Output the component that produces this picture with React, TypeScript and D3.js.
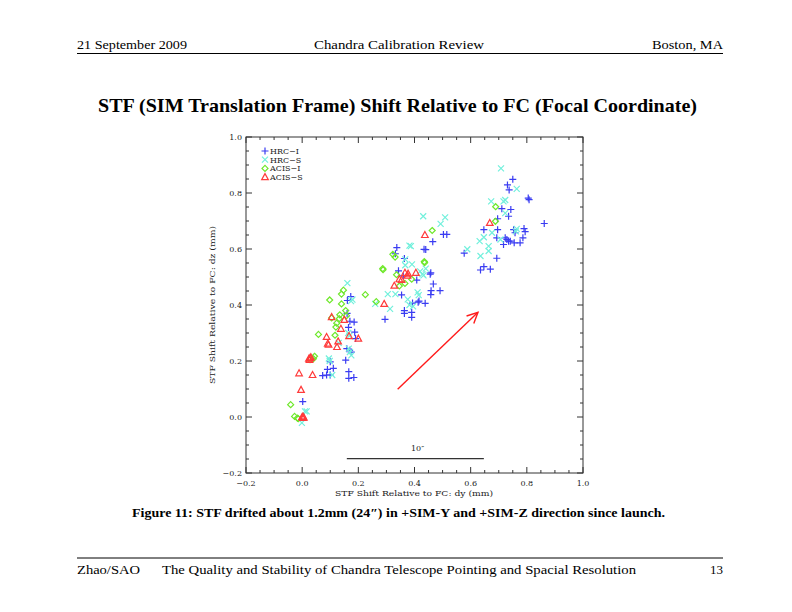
import React from "react";
import * as d3 from "d3";

const hrcI: [number, number][] = [
  [0.002,0.055],[0.073,0.148],[0.087,0.15],[0.09,0.17],[0.1,0.15],[0.111,0.174],[0.1,0.197],[0.166,0.162],[0.166,0.138],[0.184,0.141],[0.155,0.203],[0.159,0.244],[0.169,0.238],[0.175,0.232],[0.185,0.339],[0.17,0.342],[0.165,0.32],[0.187,0.303],[0.19,0.28],[0.161,0.416],[0.173,0.43],[0.16,0.37],[0.295,0.349],[0.337,0.605],[0.332,0.583],[0.343,0.522],[0.364,0.566],[0.36,0.504],[0.354,0.436],[0.364,0.38],[0.364,0.37],[0.39,0.374],[0.39,0.356],[0.393,0.407],[0.413,0.41],[0.416,0.414],[0.438,0.406],[0.434,0.599],[0.44,0.598],[0.458,0.515],[0.456,0.51],[0.467,0.475],[0.459,0.451],[0.458,0.437],[0.491,0.451],[0.408,0.489],[0.465,0.626],[0.503,0.652],[0.515,0.652],[0.577,0.585],[0.635,0.525],[0.647,0.537],[0.67,0.528],[0.693,0.567],[0.647,0.669],[0.696,0.669],[0.693,0.64],[0.696,0.708],[0.711,0.744],[0.731,0.829],[0.737,0.811],[0.75,0.849],[0.743,0.741],[0.735,0.717],[0.723,0.64],[0.729,0.634],[0.735,0.628],[0.741,0.628],[0.717,0.616],[0.753,0.669],[0.758,0.658],[0.755,0.622],[0.776,0.622],[0.786,0.64],[0.79,0.673],[0.794,0.662],[0.805,0.782],[0.808,0.776],[0.862,0.691]
];
const hrcS: [number, number][] = [
  [-0.001,-0.021],[0.01,0.02],[0.016,0.02],[0.095,0.209],[0.098,0.2],[0.107,0.15],[0.161,0.478],[0.179,0.419],[0.174,0.414],[0.166,0.244],[0.17,0.232],[0.175,0.22],[0.164,0.3],[0.168,0.29],[0.13,0.265],[0.26,0.404],[0.313,0.386],[0.305,0.439],[0.332,0.439],[0.367,0.542],[0.367,0.563],[0.382,0.612],[0.387,0.61],[0.391,0.545],[0.376,0.42],[0.382,0.4],[0.395,0.395],[0.411,0.445],[0.415,0.435],[0.42,0.52],[0.428,0.51],[0.432,0.506],[0.431,0.717],[0.44,0.53],[0.493,0.69],[0.509,0.713],[0.588,0.599],[0.635,0.575],[0.632,0.628],[0.647,0.642],[0.664,0.61],[0.664,0.593],[0.673,0.77],[0.676,0.658],[0.706,0.634],[0.708,0.888],[0.717,0.77],[0.723,0.775],[0.723,0.728],[0.764,0.815],[0.761,0.663],[0.764,0.672]
];
const acisI: [number, number][] = [
  [-0.041,0.044],[-0.027,0.002],[-0.017,-0.004],[-0.014,-0.006],[0.028,0.205],[0.044,0.217],[0.04,0.208],[0.058,0.295],[0.098,0.418],[0.105,0.354],[0.117,0.292],[0.12,0.321],[0.123,0.335],[0.132,0.351],[0.134,0.365],[0.14,0.404],[0.14,0.439],[0.147,0.453],[0.155,0.38],[0.158,0.362],[0.225,0.437],[0.264,0.412],[0.287,0.53],[0.288,0.526],[0.323,0.581],[0.331,0.571],[0.336,0.508],[0.346,0.468],[0.366,0.477],[0.39,0.492],[0.435,0.555],[0.436,0.551],[0.463,0.666],[0.689,0.751],[0.688,0.699]
];
const acisS: [number, number][] = [
  [-0.011,0.156],[-0.004,0.097],[0.0,0.0],[0.003,0.002],[0.006,-0.002],[0.002,-0.003],[0.024,0.208],[0.028,0.211],[0.031,0.213],[0.026,0.204],[0.037,0.15],[0.087,0.286],[0.091,0.262],[0.094,0.258],[0.105,0.357],[0.124,0.25],[0.128,0.27],[0.138,0.315],[0.15,0.347],[0.167,0.289],[0.2,0.28],[0.292,0.404],[0.328,0.469],[0.346,0.492],[0.354,0.49],[0.366,0.515],[0.377,0.512],[0.375,0.505],[0.405,0.515],[0.437,0.65],[0.668,0.693]
];

const seriesNames = ["HRC\u2212I", "HRC\u2212S", "ACIS\u2212I", "ACIS\u2212S"];
const seriesColors = ["#3a3cf2", "#72f0dc", "#6ee82a", "#ff3a3a"];
const majorTicks = [-0.2, 0.0, 0.2, 0.4, 0.6, 0.8, 1.0];
const arrowFrom: [number, number] = [0.34, 0.099];
const arrowTo: [number, number] = [0.626, 0.374];
const scaleBar = { x0: 0.159, x1: 0.647, y: -0.149, label: "10\u2033" };

const W = 792, H = 612;
const L = 246, R = 583, T = 137, B = 473;

function Marker({ kind, x, y, color }: { kind: number; x: number; y: number; color: string }) {
  const s = 3.5;
  if (kind === 0)
    return <path d={`M${x - s},${y}H${x + s}M${x},${y - s}V${y + s}`} stroke={color} strokeWidth={1.2} fill="none" />;
  if (kind === 1)
    return <path d={`M${x - 3},${y - 3}L${x + 3},${y + 3}M${x - 3},${y + 3}L${x + 3},${y - 3}`} stroke={color} strokeWidth={1.2} fill="none" />;
  if (kind === 2)
    return <path d={`M${x},${y - 3}L${x + 3},${y}L${x},${y + 3}L${x - 3},${y}Z`} stroke={color} strokeWidth={1.2} fill="none" />;
  return <path d={`M${x},${y - 3.5}L${x + 3.3},${y + 2.5}L${x - 3.3},${y + 2.5}Z`} stroke={color} strokeWidth={1.2} fill="none" />;
}

export default function App() {
  const x = d3.scaleLinear().domain([-0.2, 1.0]).range([L, R]);
  const y = d3.scaleLinear().domain([-0.2, 1.0]).range([B, T]);
  const minor = d3.range(-0.2, 1.0001, 0.05).map((v) => +v.toFixed(2));
  const all = [hrcI, hrcS, acisI, acisS];
  const plotFont = "DejaVu Serif";
  const docFont = "Liberation Serif";
  const hdrFont = "Liberation Serif";

  const ax0 = x(arrowFrom[0]), ay0 = y(arrowFrom[1]), ax1 = x(arrowTo[0]), ay1 = y(arrowTo[1]);
  const ang = Math.atan2(ay1 - ay0, ax1 - ax0);
  const hl = 12, ha = 0.45;
  const h1 = [ax1 - hl * Math.cos(ang - ha), ay1 - hl * Math.sin(ang - ha)];
  const h2 = [ax1 - hl * Math.cos(ang + ha), ay1 - hl * Math.sin(ang + ha)];

  return (
    <svg width={W} height={H} style={{ position: "absolute", left: 0, top: 0, background: "#fff" }}>
      <rect x={0} y={0} width={W} height={H} fill="#fff" />
      {/* header */}
      <g fontFamily={hdrFont} fontSize={12} fill="#000">
        <text x={77} y={49} textLength={110} lengthAdjust="spacingAndGlyphs">21 September 2009</text>
        <text x={314} y={49} textLength={170} lengthAdjust="spacingAndGlyphs">Chandra Calibration Review</text>
        <text x={723} y={49} textAnchor="end" textLength={71} lengthAdjust="spacingAndGlyphs">Boston, MA</text>
      </g>
      <line x1={77} x2={723} y1={53.5} y2={53.5} stroke="#000" strokeWidth={1} />
      {/* title */}
      <text x={98} y={112} fontFamily={docFont} fontWeight="bold" fontSize={19} textLength={599} lengthAdjust="spacingAndGlyphs">
        STF (SIM Translation Frame) Shift Relative to FC (Focal Coordinate)
      </text>

      {/* plot frame */}
      <rect x={L} y={T} width={R - L} height={B - T} fill="none" stroke="#333" strokeWidth={1} />
      <g stroke="#333" strokeWidth={1}>
        {minor.map((v, i) => {
          const isMajor = majorTicks.some((m) => Math.abs(m - v) < 1e-6);
          const len = isMajor ? 6 : 3;
          return (
            <g key={i}>
              <line x1={x(v)} x2={x(v)} y1={B} y2={B - len} />
              <line x1={x(v)} x2={x(v)} y1={T} y2={T + len} />
              <line x1={L} x2={L + len} y1={y(v)} y2={y(v)} />
              <line x1={R} x2={R - len} y1={y(v)} y2={y(v)} />
            </g>
          );
        })}
      </g>
      <g fontFamily={plotFont} fontSize={8} fill="#222">
        {majorTicks.map((v, i) => (
          <text key={"xt" + i} x={x(v)} y={486} textAnchor="middle">
            {v < 0 ? "\u2212" + Math.abs(v).toFixed(1) : v.toFixed(1)}
          </text>
        ))}
        {majorTicks.map((v, i) => (
          <text key={"yt" + i} x={242} y={y(v) + 3} textAnchor="end">
            {v < 0 ? "\u2212" + Math.abs(v).toFixed(1) : v.toFixed(1)}
          </text>
        ))}
        <text x={414} y={496} textAnchor="middle" textLength={158} lengthAdjust="spacingAndGlyphs">
          STF Shift Relative to FC: dy (mm)
        </text>
        <text transform={`translate(215,${(T + B) / 2}) rotate(-90)`} textAnchor="middle" textLength={158} lengthAdjust="spacingAndGlyphs">
          STF Shift Relative to FC: dz (mm)
        </text>
      </g>

      {/* data */}
      {all.map((data, k) => (
        <g key={k}>
          {data.map((d, i) => (
            <Marker key={i} kind={k} x={x(d[0])} y={y(d[1])} color={seriesColors[k]} />
          ))}
        </g>
      ))}

      {/* legend */}
      {seriesNames.map((n, k) => (
        <g key={"lg" + k}>
          <Marker kind={k} x={265} y={154 + k * 8.7 - 3} color={seriesColors[k]} />
          <text x={270} y={154 + k * 8.7} fontFamily={plotFont} fontSize={8} fill="#222">{n}</text>
        </g>
      ))}

      {/* arrow */}
      <g stroke="#ff1a1a" strokeWidth={1.4} fill="none">
        <line x1={ax0} y1={ay0} x2={ax1} y2={ay1} />
        <path d={`M${h1[0]},${h1[1]}L${ax1},${ay1}L${h2[0]},${h2[1]}`} />
      </g>

      {/* scale bar */}
      <line x1={x(scaleBar.x0)} x2={x(scaleBar.x1)} y1={y(scaleBar.y)} y2={y(scaleBar.y)} stroke="#333" strokeWidth={1.2} />
      <text x={x(0.411)} y={y(scaleBar.y) - 8} textAnchor="middle" fontFamily={plotFont} fontSize={8} fill="#222">
        {scaleBar.label}
      </text>

      {/* caption */}
      <text x={132} y={517} fontFamily={docFont} fontWeight="bold" fontSize={12} textLength={533} lengthAdjust="spacingAndGlyphs">
        Figure 11: STF drifted about 1.2mm (24″) in +SIM-Y and +SIM-Z direction since launch.
      </text>

      {/* footer */}
      <line x1={77} x2={723} y1={558} y2={558} stroke="#000" strokeWidth={1} />
      <g fontFamily={hdrFont} fontSize={12} fill="#000">
        <text x={77} y={574} textLength={63} lengthAdjust="spacingAndGlyphs">Zhao/SAO</text>
        <text x={162} y={574} textLength={474} lengthAdjust="spacingAndGlyphs">The Quality and Stability of Chandra Telescope Pointing and Spacial Resolution</text>
        <text x={723} y={574} textAnchor="end" textLength={13} lengthAdjust="spacingAndGlyphs">13</text>
      </g>
    </svg>
  );
}
